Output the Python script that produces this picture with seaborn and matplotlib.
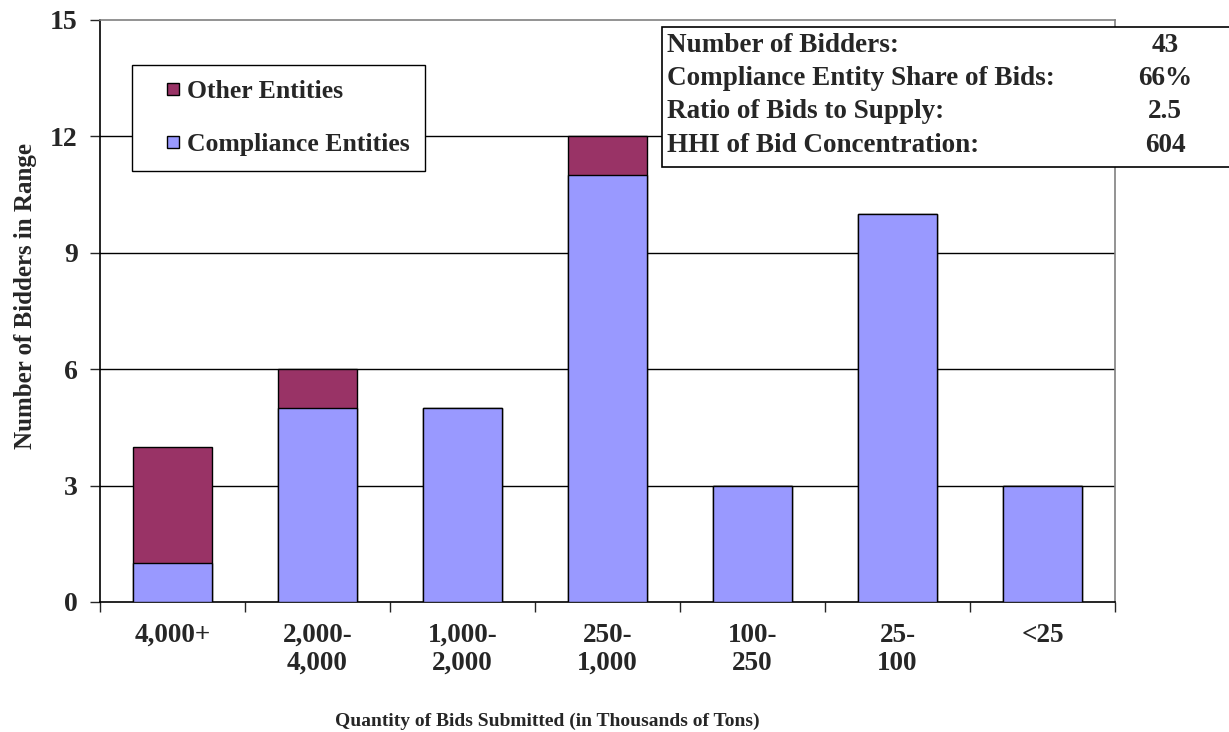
import matplotlib
matplotlib.use('Agg')
import matplotlib.pyplot as plt
import seaborn as sns
import pandas as pd
from matplotlib.patches import Rectangle
from matplotlib.lines import Line2D

# Dados do gráfico
faixas = ['4,000+', '2,000-\n4,000', '1,000-\n2,000', '250-\n1,000', '100-\n250', '25-\n100', '<25']
compliance = [1, 5, 5, 11, 3, 10, 3]
outros = [3, 1, 0, 1, 0, 0, 0]
info_rotulos = ['Number of Bidders:', 'Compliance Entity Share of Bids:',
                'Ratio of Bids to Supply:', 'HHI of Bid Concentration:']
info_valores = ['43', '66%', '2.5', '604']

cor_outros = '#993366'
cor_comp = '#9999FF'

df = pd.DataFrame({'faixa': faixas, 'comp': compliance, 'outros': outros})
df['total'] = df['comp'] + df['outros']

sns.set_style('white')
plt.rcParams['font.family'] = ['Liberation Serif', 'DejaVu Serif']
plt.rcParams['font.weight'] = 'bold'

fig = plt.figure(figsize=(12.29, 7.32), dpi=100)
ax = fig.add_axes([0.0814, 0.1776, 0.8259, 0.7951])

# Barras empilhadas: total em cor "outros", compliance por cima
sns.barplot(data=df, x='faixa', y='total', color=cor_outros, width=0.55,
            edgecolor='black', linewidth=1, saturation=1, ax=ax, zorder=2)
sns.barplot(data=df, x='faixa', y='comp', color=cor_comp, width=0.55,
            edgecolor='black', linewidth=1, saturation=1, ax=ax, zorder=3)

ax.set_xlim(-0.5, len(faixas) - 0.5)
ax.set_ylim(0, 15)
ax.set_yticks([0, 3, 6, 9, 12, 15])
for y in [3, 6, 9, 12]:
    ax.axhline(y, color='black', linewidth=1, zorder=1)

for s in ['top', 'right']:
    ax.spines[s].set_color('#808080')
    ax.spines[s].set_linewidth(1.2)
for s in ['left', 'bottom']:
    ax.spines[s].set_color('black')
    ax.spines[s].set_linewidth(1.2)

ax.tick_params(axis='y', which='major', direction='out', length=7, width=1,
               left=True, labelsize=20, pad=9)
ax.set_xticks(range(len(faixas)))
ax.set_xticklabels(faixas, fontsize=19.5, fontweight='bold', linespacing=1.15)
ax.set_xticks([i - 0.5 for i in range(len(faixas) + 1)], minor=True)
ax.tick_params(axis='x', which='major', length=0, pad=15)
ax.tick_params(axis='x', which='minor', direction='out', length=7, width=1, bottom=True)
for lbl in ax.get_yticklabels():
    lbl.set_fontweight('bold')

ax.set_xlabel('Quantity of Bids Submitted (in Thousands of Tons)', fontsize=14,
              fontweight='bold')
ax.xaxis.set_label_coords(0.4404, -0.19)
ax.set_ylabel('Number of Bidders in Range', fontsize=18, fontweight='bold', va='center')
ax.yaxis.set_label_coords(-0.0739, 0.526)

# Legenda
h1 = Line2D([], [], marker='s', markersize=9, markerfacecolor=cor_outros,
            markeredgecolor='black', markeredgewidth=1, linestyle='None')
h2 = Line2D([], [], marker='s', markersize=9, markerfacecolor=cor_comp,
            markeredgecolor='black', markeredgewidth=1, linestyle='None')
leg = ax.legend([h1, h2], ['Other Entities', 'Compliance Entities'],
                loc='upper left', bbox_to_anchor=(0.031, 0.9227),
                prop={'size': 18.5, 'weight': 'bold'}, frameon=True, fancybox=False,
                edgecolor='black', framealpha=1, handlelength=2.0,
                handletextpad=-0.45, labelspacing=1.15, borderpad=0.6, borderaxespad=0)
leg.get_frame().set_linewidth(1)

# Caixa de informações
fig.patches.append(Rectangle((662 / 1229, 1 - 167 / 732), 600 / 1229, 140 / 732,
                             transform=fig.transFigure, facecolor='white',
                             edgecolor='black', linewidth=1.2, zorder=5))
for i, (r, v) in enumerate(zip(info_rotulos, info_valores)):
    y = 1 - (45 + i * 33.5) / 732
    fig.text(667 / 1229, y, r, fontsize=19.5, fontweight='bold', va='center', ha='left', zorder=6)
    fig.text(1165 / 1229, y, v, fontsize=19.5, fontweight='bold', va='center', ha='center', zorder=6)

fig.savefig('out.png', dpi=100)
